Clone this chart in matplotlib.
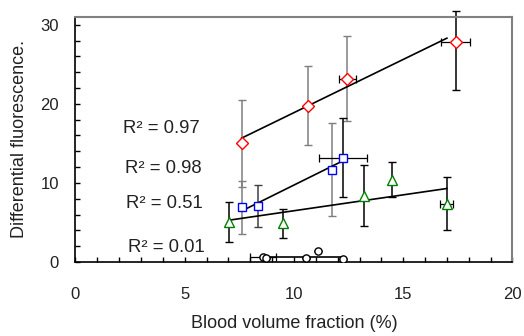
import numpy as np
import matplotlib
matplotlib.use("Agg")
import matplotlib.pyplot as plt

plt.rcParams['font.family'] = ['Liberation Sans', 'DejaVu Sans']

# red diamonds
red_x = [7.6, 10.65, 12.44, 17.41]
red_y = [15.0, 19.75, 23.2, 27.8]
red_yerr_lo = [5.5, 5.0, 5.35, 6.1]
red_yerr_hi = [5.5, 5.0, 5.35, 3.9]
red_xerr = [0, 0, 0.38, 0.66]
red_fit_x = [7.6, 17.0]
red_fit_y = [15.66, 28.3]

# blue squares
blue_x = [7.6, 8.37, 11.72, 12.24]
blue_y = [6.9, 7.1, 11.7, 13.2]
blue_yerr = [3.3, 2.7, 5.9, 5.0]
blue_xerr = [0, 0, 0, 1.08]
blue_fit_x = [7.6, 12.24]
blue_fit_y = [6.45, 12.8]

# green triangles
green_x = [7.04, 9.51, 13.2, 14.5, 17.0]
green_y = [5.1, 4.9, 8.4, 10.4, 7.4]
green_yerr = [2.5, 1.85, 3.9, 2.2, 3.4]
green_xerr = [0, 0, 0, 0, 0.3]
green_fit_x = [7.04, 17.0]
green_fit_y = [5.3, 9.3]

# black circles
circ_x = [8.6, 8.72, 10.53, 11.11, 12.23]
circ_y = [0.6, 0.47, 0.47, 1.43, 0.38]
circ_xerr = [0.6, 0, 0, 0, 0]
circ_fit_x = [8.47, 12.23]
circ_fit_y = [0.62, 0.62]

r2_labels = ["R\u00b2 = 0.97", "R\u00b2 = 0.98", "R\u00b2 = 0.51", "R\u00b2 = 0.01"]
r2_x = [2.19, 2.26, 2.30, 2.39]
r2_y = [16.94, 11.85, 7.42, 1.86]

fig = plt.figure(figsize=(5.24, 3.36), dpi=100)
ax = fig.add_axes([0.144, 0.22, 0.834, 0.73])


def bars(x, y, ylo, yhi, xerr, ecols):
    for i in range(len(x)):
        ax.errorbar(x[i], y[i], yerr=[[ylo[i]], [yhi[i]]], fmt='none',
                    ecolor=ecols[i], elinewidth=1.1, capsize=2.6, capthick=1,
                    clip_on=False, zorder=2)
        if xerr[i] > 0:
            ax.errorbar(x[i], y[i], xerr=xerr[i], fmt='none', ecolor='black',
                        elinewidth=0.9, capsize=2.6, capthick=0.9, zorder=2)


bars(red_x, red_y, red_yerr_lo, red_yerr_hi, red_xerr,
     ['#7f7f7f', '#7f7f7f', '#7f7f7f', 'black'])
bars(blue_x, blue_y, blue_yerr, blue_yerr, blue_xerr,
     ['#7f7f7f', '#404040', '#7f7f7f', 'black'])
bars(green_x, green_y, green_yerr, green_yerr, green_xerr, ['black'] * 5)
bars(circ_x, circ_y, [0] * 5, [0] * 5, circ_xerr, ['black'] * 5)

for fx, fy in [(red_fit_x, red_fit_y), (blue_fit_x, blue_fit_y),
               (green_fit_x, green_fit_y), (circ_fit_x, circ_fit_y)]:
    ax.plot(fx, fy, color='black', lw=1.2, zorder=3)

ax.plot(red_x, red_y, 'D', ms=6, mfc='white', mec='red', mew=1, ls='none', zorder=4)
ax.plot(blue_x, blue_y, 's', ms=6, mfc='white', mec='blue', mew=1, ls='none', zorder=4)
ax.plot(green_x, green_y, '^', ms=7, mfc='white', mec='green', mew=1, ls='none', zorder=4)
ax.plot(circ_x, circ_y, 'o', ms=5.2, mfc='white', mec='black', mew=1, ls='none', zorder=4)

for lab, tx, ty in zip(r2_labels, r2_x, r2_y):
    ax.text(tx, ty, lab, fontsize=13.3, va='center', ha='left', color='#222222')

ax.set_xlim(0, 20)
ax.set_ylim(0, 31)
ax.set_xticks([0, 5, 10, 15, 20])
ax.set_xticks(np.arange(0, 21, 1), minor=True)
ax.set_yticks([0, 10, 20, 30])
ax.set_yticks(np.arange(0, 31, 2), minor=True)
ax.tick_params(which='both', direction='in', length=3.8, width=1, labelsize=12,
               colors='black', labelcolor='#222222')
ax.tick_params(axis='x', pad=18)
ax.tick_params(axis='y', pad=12)
ax.spines['left'].set_linewidth(1.2)
ax.spines['bottom'].set_linewidth(1.2)
for s in ['top', 'right']:
    ax.spines[s].set_color('#808080')
    ax.spines[s].set_linewidth(1.5)

ax.set_xlabel("Blood volume fraction (%)", fontsize=13, color='#222222', labelpad=9)
ax.set_ylabel("Differential fluorescence.", fontsize=13, color='#222222', labelpad=9)

fig.savefig("out.png", dpi=100)
